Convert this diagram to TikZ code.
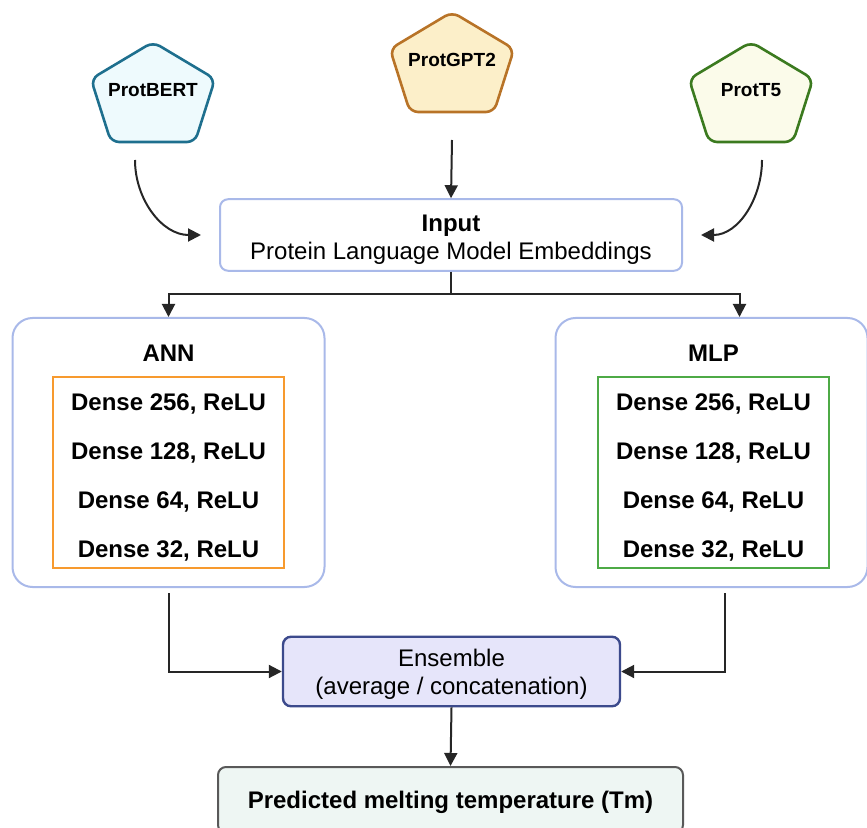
\documentclass[tikz,border=0pt]{standalone}
\usepackage{fontspec}
\setmainfont{Liberation Sans}
\usepackage{tikz}
\usetikzlibrary{positioning,arrows.meta}
\definecolor{blk}{HTML}{262626}
\definecolor{grp}{HTML}{A9B9E9}
\definecolor{bertc}{HTML}{1E6F8E}
\definecolor{bertf}{HTML}{EEFAFD}
\definecolor{gptc}{HTML}{B87327}
\definecolor{gptf}{HTML}{FCEFC9}
\definecolor{tfc}{HTML}{3B7A1F}
\definecolor{tff}{HTML}{FBFBEA}
\definecolor{orng}{HTML}{F79A2E}
\definecolor{grn}{HTML}{4EAA46}
\definecolor{ensc}{HTML}{3C4A8C}
\definecolor{ensf}{HTML}{E6E5FA}
\definecolor{outc}{HTML}{595959}
\definecolor{outf}{HTML}{EEF6F3}
\newcommand{\lift}[1]{\rule{0pt}{#1}}
\tikzset{
  >={Triangle[length=6.5pt,width=6.5pt]},
  pent/.style={line width=1.3pt, rounded corners=4pt},
  plbl/.style={font=\fontsize{9.5}{11}\selectfont\bfseries},
  box/.style={draw=grp, line width=1pt, rounded corners=4pt, fill=white, align=center,
              font=\fontsize{12}{14}\selectfont},
  group/.style={draw=grp, line width=1pt, rounded corners=10pt, minimum width=156pt,
                minimum height=134.5pt},
  ttl/.style={font=\fontsize{12}{14}\selectfont\bfseries},
  layers/.style={line width=1pt, align=center, minimum width=115.5pt, minimum height=94.5pt,
                 font=\fontsize{12}{24.5}\selectfont\bfseries},
  l/.style={->, line width=1pt, draw=blk},
}
\begin{document}
\begin{tikzpicture}[x=0.5pt,y=-0.5pt]
  \useasboundingbox (0,0) rectangle (867,828);
  \clip (0,0) rectangle (867,828);
  % language models
  \draw[pent,draw=bertc,fill=bertf] (153,42) -- ++(62,37) -- ++(-20,63) -- ++(-84,0) -- ++(-20,-63) -- cycle;
  \draw[pent,draw=gptc,fill=gptf] (452,12) -- ++(62,37) -- ++(-20,63) -- ++(-84,0) -- ++(-20,-63) -- cycle;
  \draw[pent,draw=tfc,fill=tff] (751,42) -- ++(62,37) -- ++(-20,63) -- ++(-84,0) -- ++(-20,-63) -- cycle;
  \node[plbl] (bert) at (153,90) {ProtBERT};
  \node[plbl] (gpt) at (452,60) {ProtGPT2};
  \node[plbl] (tfive) at (751,90) {ProtT5};
  \coordinate (bertout) at (135,160);
  \coordinate (gptout) at (452,140);
  \coordinate (tfiveout) at (762,160);
  % input
  \node[box,minimum width=231pt,minimum height=33pt] (input) at (451,235) {\lift{12.6pt}\textbf{Input}\\Protein Language Model Embeddings};
  % two branches
  \node[group] (ann) at (168.5,452.5) {};
  \node[ttl] (annt) at (168.5,353) {ANN};
  \node[layers,draw=orng] (annl) at (168.5,472.5) {\lift{13.8pt}Dense 256, ReLU\\Dense 128, ReLU\\Dense 64, ReLU\\Dense 32, ReLU};
  \node[group] (mlp) at (711.5,452.5) {};
  \node[ttl] (mlpt) at (713.5,353) {MLP};
  \node[layers,draw=grn] (mlpl) at (713.5,472.5) {\lift{13.8pt}Dense 256, ReLU\\Dense 128, ReLU\\Dense 64, ReLU\\Dense 32, ReLU};
  % ensemble and output
  \node[box,draw=ensc,fill=ensf,line width=1.2pt,minimum width=168.5pt,minimum height=33.5pt] (ens) at (451.5,671.5) {\lift{11.6pt}Ensemble\\(average / concatenation)};
  \node[box,draw=outc,fill=outf,text depth=0pt,minimum width=232.5pt,minimum height=33pt,font=\fontsize{12}{14}\selectfont\bfseries] (pred) at (450.5,800) {Predicted melting temperature (Tm)};
  \draw[l] (bertout) to[out=-90,in=180] ([xshift=-9pt]input.west);
  \draw[l] (gptout) -- (input.north);
  \draw[l] (tfiveout) to[out=-90,in=0] ([xshift=9pt]input.east);
  \draw[l] (input.south) -- ++(0,22) -| (ann.north);
  \draw[l] (input.south) -- ++(0,22) -| ([xshift=14pt]mlp.north);
  \draw[l] ([yshift=-2.5pt]ann.south) |- (ens.west);
  \draw[l] ([xshift=6.75pt,yshift=-2.5pt]mlp.south) |- (ens.east);
  \draw[l] (ens.south) -- (pred.north);
\end{tikzpicture}
\end{document}
